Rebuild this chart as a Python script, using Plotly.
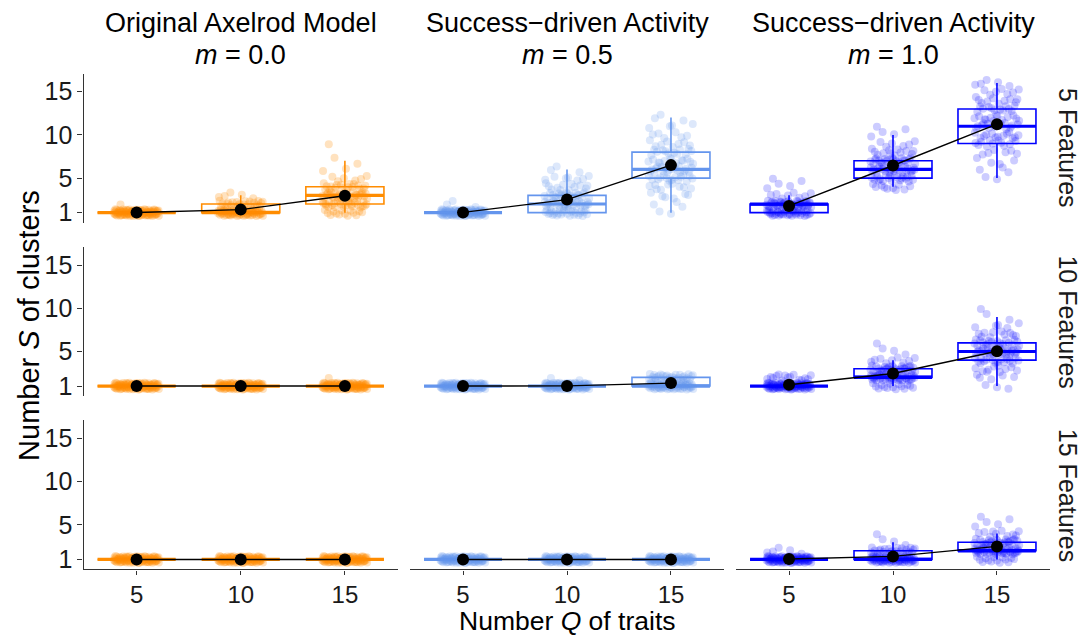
import numpy as np
import plotly.graph_objects as go

# ---- data -------------------------------------------------------------
Q_TRAITS = [5, 10, 15]
FEATURE_ROWS = ["5 Features", "10 Features", "15 Features"]
MODEL_NAMES = ["Original Axelrod Model", "Success\u2212driven Activity", "Success\u2212driven Activity"]
M_LABELS = ["0.0", "0.5", "1.0"]
Y_TICKS = [1, 5, 10, 15]

# number of clusters S -> number of runs, for Q = 5, 10, 15
clusters_m00_f05 = [{1: 99, 2: 1},
                    {1: 70, 2: 25, 3: 5},
                    {1: 14, 2: 27, 3: 30, 4: 18, 5: 6, 6: 2, 7: 2, 9: 1}]
clusters_m00_f10 = [{1: 100}, {1: 100}, {1: 99, 2: 1}]
clusters_m00_f15 = [{1: 100}, {1: 100}, {1: 100}]

clusters_m05_f05 = [{1: 97, 2: 3},
                    {1: 28, 2: 28, 3: 22, 4: 12, 5: 7, 6: 3},
                    {1: 2, 2: 3, 3: 6, 4: 9, 5: 15, 6: 19, 7: 13, 8: 12, 9: 8, 10: 6, 11: 4, 12: 3}]
clusters_m05_f10 = [{1: 100}, {1: 98, 2: 2}, {1: 66, 2: 34}]
clusters_m05_f15 = [{1: 100}, {1: 100}, {1: 100}]

clusters_m10_f05 = [{1: 42, 2: 45, 3: 8, 4: 3, 5: 2},
                    {4: 10, 5: 20, 6: 25, 7: 22, 8: 12, 9: 6, 10: 3, 11: 2},
                    {5: 2, 6: 3, 7: 4, 8: 6, 9: 11, 10: 13, 11: 14, 12: 13, 13: 12, 14: 10, 15: 7, 16: 5}]
clusters_m10_f10 = [{1: 85, 2: 15},
                    {1: 15, 2: 42, 3: 30, 4: 9, 5: 3, 6: 1},
                    {1: 3, 2: 5, 3: 10, 4: 18, 5: 26, 6: 20, 7: 10, 8: 5, 9: 2, 10: 1}]
clusters_m10_f15 = [{1: 95, 2: 5},
                    {1: 70, 2: 26, 3: 3, 4: 1},
                    {1: 14, 2: 43, 3: 28, 4: 10, 5: 3, 6: 2}]

GRID = [
    [clusters_m00_f05, clusters_m05_f05, clusters_m10_f05],
    [clusters_m00_f10, clusters_m05_f10, clusters_m10_f10],
    [clusters_m00_f15, clusters_m05_f15, clusters_m10_f15],
]

# ---- styling ----------------------------------------------------------
COLORS = [(255, 140, 0), (100, 149, 237), (0, 0, 255)]
POINT_ALPHA = [0.25, 0.22, 0.2]
FONT = "Liberation Sans, Arial, Helvetica, sans-serif"
W, H = 1081, 635
COL_PX = [(83.5, 398), (410, 724), (736, 1050)]
ROW_PX = [(74, 224), (248.5, 398.5), (423, 573)]
BOX_W = 0.75
JITTER_W = 0.22   # half-width of horizontal jitter (x units)
JITTER_H = 0.4    # half-height of vertical jitter (y units)
AXIS_COLOR = "#333333"
TICK_SIZE = 25
XTICK_SIZE = 24
TITLE_SIZE = 27


def van_der_corput(k, base):
    out = np.zeros(len(k))
    denom = np.ones(len(k))
    k = k.copy()
    while np.any(k > 0):
        denom *= base
        out += (k % base) / denom
        k //= base
    return out


def jitter_offsets(n):
    """Evenly spread 2-D jitter (Halton 2/3 sequence) in [-1, 1]."""
    k = np.arange(1, n + 1)
    return 2 * van_der_corput(k, 2) - 1, 2 * van_der_corput(k, 3) - 1


fig = go.Figure()
layout = {}

for r in range(3):
    for c in range(3):
        k = r * 3 + c + 1
        xa = "x" if k == 1 else f"x{k}"
        ya = "y" if k == 1 else f"y{k}"
        rgb = COLORS[c]
        solid = f"rgb{rgb}"
        faint = f"rgba({rgb[0]},{rgb[1]},{rgb[2]},{POINT_ALPHA[c]})"
        means = []
        for qi, counts in enumerate(GRID[r][c]):
            vals = np.repeat(list(counts.keys()), list(counts.values())).astype(float)
            pos = qi + 1
            means.append(vals.mean())
            # box + whiskers (1.5 IQR fences); outlier markers hidden
            fig.add_trace(go.Box(
                x=[pos] * len(vals), y=vals, xaxis=xa, yaxis=ya,
                width=BOX_W, boxpoints="outliers", whiskerwidth=0,
                fillcolor="rgba(0,0,0,0)",
                line=dict(color=solid, width=1.6),
                marker=dict(color="rgba(0,0,0,0)", size=1, line=dict(width=0)),
                showlegend=False, hoverinfo="skip",
            ))
            med = float(np.median(vals))
            fig.add_trace(go.Scatter(
                x=[pos - BOX_W / 2, pos + BOX_W / 2], y=[med, med],
                xaxis=xa, yaxis=ya, mode="lines",
                line=dict(color=solid, width=3.2),
                showlegend=False, hoverinfo="skip",
            ))
            # individual runs, jittered
            dx, dy = jitter_offsets(len(vals))
            fig.add_trace(go.Scatter(
                x=pos + JITTER_W * dx, y=vals + JITTER_H * dy,
                xaxis=xa, yaxis=ya, mode="markers",
                marker=dict(color=faint, size=8, line=dict(width=0)),
                showlegend=False, hoverinfo="skip",
            ))
        fig.add_trace(go.Scatter(
            x=[1, 2, 3], y=means, xaxis=xa, yaxis=ya,
            mode="lines+markers",
            line=dict(color="black", width=1.4),
            marker=dict(color="black", size=12),
            showlegend=False, hoverinfo="skip",
        ))

        x0, x1 = COL_PX[c]
        y0, y1 = ROW_PX[r]
        bottom = r == 2
        left = c == 0
        layout["xaxis" if k == 1 else f"xaxis{k}"] = dict(
            domain=[x0 / W, x1 / W], anchor=ya, range=[0.49, 3.51],
            tickmode="array", tickvals=[1, 2, 3], ticktext=[str(q) for q in Q_TRAITS],
            showticklabels=bottom, ticks="outside" if bottom else "",
            ticklen=4, tickwidth=1.2, tickcolor=AXIS_COLOR,
            showline=bottom, linecolor=AXIS_COLOR, linewidth=1.3,
            showgrid=False, zeroline=False,
            tickfont=dict(size=XTICK_SIZE, color="#1a1a1a", family=FONT),
        )
        layout["yaxis" if k == 1 else f"yaxis{k}"] = dict(
            domain=[1 - y1 / H, 1 - y0 / H], anchor=xa, range=[-0.15, 17.1],
            tickmode="array", tickvals=Y_TICKS,
            showticklabels=left, ticks="outside" if left else "",
            ticklen=5, tickwidth=1.2, tickcolor=AXIS_COLOR,
            showline=left, linecolor=AXIS_COLOR, linewidth=1.3,
            showgrid=False, zeroline=False,
            tickfont=dict(size=TICK_SIZE, color="#1a1a1a", family=FONT),
        )

annotations = []
for c in range(3):
    xc = (COL_PX[c][0] + COL_PX[c][1]) / 2 / W
    annotations.append(dict(text=MODEL_NAMES[c], x=xc, y=1 - 23 / H, xref="paper", yref="paper",
                            showarrow=False, xanchor="center", yanchor="middle",
                            font=dict(size=TITLE_SIZE, color="black", family=FONT)))
    annotations.append(dict(text=f"<i>m</i> = {M_LABELS[c]}", x=xc, y=1 - 55.5 / H, xref="paper", yref="paper",
                            showarrow=False, xanchor="center", yanchor="middle",
                            font=dict(size=TITLE_SIZE, color="black", family=FONT)))
for r in range(3):
    yc = 1 - (ROW_PX[r][0] + ROW_PX[r][1]) / 2 / H
    annotations.append(dict(text=FEATURE_ROWS[r], x=1068 / W, y=yc, xref="paper", yref="paper",
                            showarrow=False, xanchor="center", yanchor="middle", textangle=90,
                            font=dict(size=25, color="#1a1a1a", family=FONT)))
annotations.append(dict(text="Number <i>S</i> of clusters", x=29 / W, y=1 - 328 / H,
                        xref="paper", yref="paper", showarrow=False, textangle=-90,
                        xanchor="center", yanchor="middle",
                        font=dict(size=29, color="black", family=FONT)))
annotations.append(dict(text="Number <i>Q</i> of traits", x=567 / W, y=0,
                        xref="paper", yref="paper", showarrow=False,
                        xanchor="center", yanchor="bottom", yshift=-7,
                        font=dict(size=26.5, color="black", family=FONT)))

fig.update_layout(
    width=W, height=H, margin=dict(l=0, r=0, t=0, b=0),
    paper_bgcolor="white", plot_bgcolor="white",
    boxmode="overlay", annotations=annotations, showlegend=False,
    font=dict(family=FONT),
    **layout,
)

fig.write_html("out.html")
